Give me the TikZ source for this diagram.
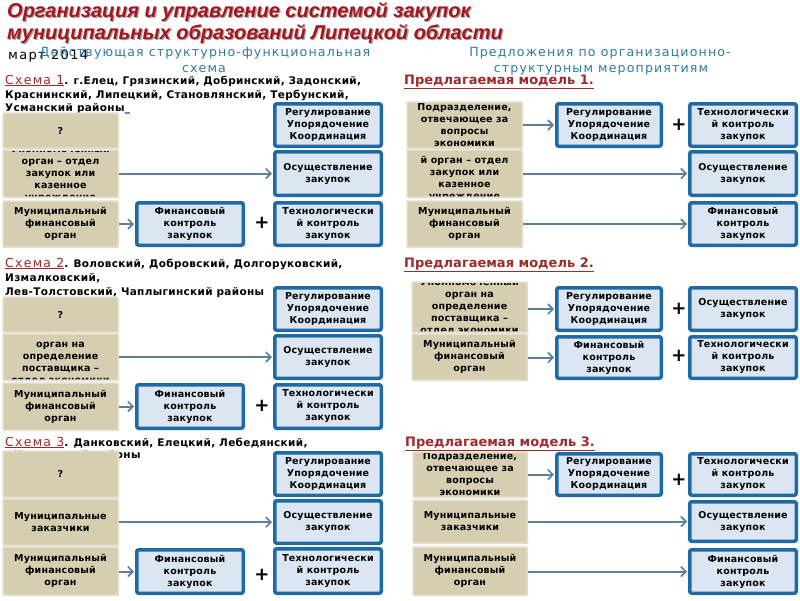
\documentclass[tikz,border=0pt]{standalone}
\usepackage{fontspec}
\setmainfont{DejaVu Sans}
\newfontfamily\titlefont{Liberation Sans}
\newfontfamily\boxfont{DejaVu Sans}[LetterSpace=2]
\newfontfamily\subfont{DejaVu Sans}[LetterSpace=9]
\newfontfamily\schfont{DejaVu Sans}[LetterSpace=10]
\newfontfamily\distfont{DejaVu Sans}[LetterSpace=3]
\usetikzlibrary{arrows.meta,shadows}
\definecolor{titlered}{HTML}{A5141F}
\definecolor{subblue}{HTML}{2E7BA0}
\definecolor{schred}{HTML}{9E2A2B}
\definecolor{tanfill}{HTML}{D5CEB1}
\definecolor{tanline}{HTML}{E3DECB}
\definecolor{bluefill}{HTML}{DCE6F2}
\definecolor{blueline}{HTML}{1D6AA5}
\definecolor{arrowc}{HTML}{5E7F98}
\tikzset{
  boxtext/.style={font=\boxfont\bfseries\fontsize{9.5}{12}\selectfont, align=center, text=black, inner sep=0pt},
  tanbox/.style={draw=tanline, line width=1.5pt, fill=tanfill, inner sep=0pt, rounded corners=1pt,
     drop shadow={shadow xshift=1.2pt, shadow yshift=-1.2pt, fill=black!30, opacity=0.5}},
  bluebox/.style={draw=blueline, line width=3.5pt, fill=bluefill, rounded corners=2pt, inner sep=0pt,
     boxtext},
  arr/.style={draw=arrowc, line width=2pt, -{Straight Barb[length=5pt,width=10pt,line width=1.6pt]}, shorten >=1pt},
  plussign/.style={font=\bfseries\fontsize{18}{18}\selectfont, inner sep=0pt},
  subtitle/.style={font=\subfont\fontsize{12.6}{12.6}\selectfont, text=subblue, inner sep=0pt},
  dist/.style={font=\distfont\bfseries\fontsize{10.5}{10.5}\selectfont, anchor=base west, inner sep=0pt},
  modelhead/.style={font=\bfseries\fontsize{13}{13}\selectfont, text=schred, anchor=base west, inner sep=0pt},
  titletext/.style={font=\titlefont\bfseries\itshape\fontsize{20}{20}\selectfont, anchor=west, inner sep=0pt}
}
\newcommand\TanBox[6]{%
  \node[tanbox, minimum width={#4-#2}, minimum height={#5-#3},
    path picture={\node[boxtext] at (path picture bounding box.center) {#6};}]
    (#1) at ({(#2+#4)/2},{(#3+#5)/2}) {};}
\newcommand\BlueBox[6]{%
  \node[bluebox, minimum width={#4-#2-3.5}, minimum height={#5-#3-3.5}]
    (#1) at ({(#2+#4)/2},{(#3+#5)/2}) {#6};}
\newcommand\SchLabel[1]{{\schfont\mdseries\fontsize{12.5}{12.5}\selectfont\textcolor{schred}{\underline{#1}}}}
\begin{document}
\begin{tikzpicture}[x=1pt,y=-1pt]
\useasboundingbox[fill=white] (0,0) rectangle (800,600);
% Title
\node[titletext, text=black!35] (t1s) at (8.3,13.3) {Организация и управление системой закупок};
\node[titletext, text=titlered] (t1) at (7,12) {Организация и управление системой закупок};
\node[titletext, text=black!35] (t2s) at (8.3,35.3) {муниципальных образований Липецкой области};
\node[titletext, text=titlered] (t2) at (7,34) {муниципальных образований Липецкой области};
\node[font=\schfont\fontsize{13}{13}\selectfont, anchor=west, inner sep=0pt] (date) at (8,56) {март 2014};
\node[subtitle] (sl1) at (205,53) {Действующая структурно-функциональная};
\node[subtitle] (sl2) at (204,69) {схема};
\node[subtitle] (sr1) at (600,53) {Предложения по организационно-};
\node[subtitle] (sr2) at (601,70) {структурным мероприятиям};

% ===== Schema 1 =====
\node[dist] (h1a) at (5,84) {\SchLabel{Схема 1}. г.Елец, Грязинский, Добринский, Задонский,};
\node[dist] (h1b) at (5,98) {Краснинский, Липецкий, Становлянский, Тербунский,};
\node[dist] (h1c) at (5,111) {Усманский районы\_};
\TanBox{L1a}{3}{113}{118}{148}{?}
\TanBox{L1b}{3}{150}{118}{197}{Уполномоченный\\орган – отдел\\закупок или\\казенное\\учреждение}
\TanBox{L1c}{3}{201}{118}{247}{Муниципальный\\финансовый\\орган}
\BlueBox{M1}{135}{201}{245}{247}{Финансовый\\контроль\\закупок}
\BlueBox{R1a}{273}{102}{383}{148}{Регулирование\\Упорядочение\\Координация}
\BlueBox{R1b}{273}{150}{383}{197}{Осуществление\\закупок}
\BlueBox{R1c}{273}{201}{383}{247}{Технологически\\й контроль\\закупок}
\node[plussign] (p1) at (262,223) {+};
\draw[arr] (L1b) -- (R1b);
\draw[arr] (L1c) -- (M1);

% ===== Model 1 =====
\node[modelhead] (mh1) at (404,84) {\underline{Предлагаемая модель 1.}};
\TanBox{P1a}{407}{102}{522}{148}{Подразделение,\\отвечающее за\\вопросы\\экономики}
\TanBox{P1b}{407}{150}{522}{197}{Уполномоченны\\й орган – отдел\\закупок или\\казенное\\учреждение}
\TanBox{P1c}{407}{201}{522}{247}{Муниципальный\\финансовый\\орган}
\BlueBox{Q1a}{555}{102}{663}{148}{Регулирование\\Упорядочение\\Координация}
\BlueBox{S1a}{688}{102}{798}{148}{Технологически\\й контроль\\закупок}
\BlueBox{S1b}{688}{150}{798}{197}{Осуществление\\закупок}
\BlueBox{S1c}{688}{201}{798}{247}{Финансовый\\контроль\\закупок}
\node[plussign] (p2) at (679,125) {+};
\draw[arr] (P1a) -- (Q1a);
\draw[arr] (P1b) -- (S1b);
\draw[arr] (P1c) -- (S1c);

% ===== Schema 2 =====
\node[dist] (h2a) at (5,267) {\SchLabel{Схема 2}. Воловский, Добровский, Долгоруковский,};
\node[dist] (h2b) at (5,281) {Измалковский,};
\node[dist] (h2c) at (5,295) {Лев-Толстовский, Чаплыгинский районы};
\TanBox{L2a}{3}{297}{118}{332}{?}
\TanBox{L2b}{3}{334}{118}{380}{Уполномоченный\\орган на\\определение\\поставщика –\\отдел экономики}
\TanBox{L2c}{3}{383}{118}{430}{Муниципальный\\финансовый\\орган}
\BlueBox{M2}{135}{383}{245}{430}{Финансовый\\контроль\\закупок}
\BlueBox{R2a}{273}{286}{383}{332}{Регулирование\\Упорядочение\\Координация}
\BlueBox{R2b}{273}{334}{383}{380}{Осуществление\\закупок}
\BlueBox{R2c}{273}{383}{383}{430}{Технологически\\й контроль\\закупок}
\node[plussign] (p3) at (262,406) {+};
\draw[arr] (L2b) -- (R2b);
\draw[arr] (L2c) -- (M2);

% ===== Model 2 =====
\node[modelhead] (mh2) at (404,267) {\underline{Предлагаемая модель 2.}};
\TanBox{P2a}{412}{282}{527}{332}{Уполномоченный\\орган на\\определение\\поставщика –\\отдел экономики}
\TanBox{P2b}{412}{334}{527}{380}{Муниципальный\\финансовый\\орган}
\BlueBox{Q2a}{555}{286}{663}{332}{Регулирование\\Упорядочение\\Координация}
\BlueBox{Q2b}{555}{335}{663}{380}{Финансовый\\контроль\\закупок}
\BlueBox{S2a}{688}{286}{798}{332}{Осуществление\\закупок}
\BlueBox{S2b}{688}{335}{798}{380}{Технологически\\й контроль\\закупок}
\node[plussign] (p4) at (679,309) {+};
\node[plussign] (p5) at (679,356) {+};
\draw[arr] (P2a.east |- Q2a.west) -- (Q2a.west);
\draw[arr] (P2b.east |- Q2b.west) -- (Q2b.west);

% ===== Schema 3 =====
\node[dist] (h3a) at (5,446) {\SchLabel{Схема 3}. Данковский, Елецкий, Лебедянский,};
\node[dist] (h3b) at (14,458) {Хлевенский районы};
\TanBox{L3a}{3}{451}{118}{497}{?}
\TanBox{L3b}{3}{499}{118}{545}{Муниципальные\\заказчики}
\TanBox{L3c}{3}{547}{118}{595}{Муниципальный\\финансовый\\орган}
\BlueBox{M3}{135}{548}{245}{595}{Финансовый\\контроль\\закупок}
\BlueBox{R3a}{273}{451}{383}{497}{Регулирование\\Упорядочение\\Координация}
\BlueBox{R3b}{273}{499}{383}{545}{Осуществление\\закупок}
\BlueBox{R3c}{273}{547}{383}{595}{Технологически\\й контроль\\закупок}
\node[plussign] (p6) at (262,575) {+};
\draw[arr] (L3b) -- (R3b);
\draw[arr] (L3c.east |- M3.west) -- (M3.west);

% ===== Model 3 =====
\node[modelhead] (mh3) at (405,446) {\underline{Предлагаемая модель 3.}};
\TanBox{P3a}{413}{452}{527}{497}{Подразделение,\\отвечающее за\\вопросы\\экономики}
\TanBox{P3b}{413}{500}{527}{543}{Муниципальные\\заказчики}
\TanBox{P3c}{413}{547}{527}{595}{Муниципальный\\финансовый\\орган}
\BlueBox{Q3a}{555}{452}{663}{497}{Регулирование\\Упорядочение\\Координация}
\BlueBox{S3a}{688}{452}{798}{497}{Технологически\\й контроль\\закупок}
\BlueBox{S3b}{688}{500}{798}{543}{Осуществление\\закупок}
\BlueBox{S3c}{688}{548}{798}{595}{Финансовый\\контроль\\закупок}
\node[plussign] (p7) at (679,480) {+};
\draw[arr] (P3a) -- (Q3a);
\draw[arr] (P3b) -- (S3b);
\draw[arr] (P3c.east |- S3c.west) -- (S3c.west);
\end{tikzpicture}
\end{document}
